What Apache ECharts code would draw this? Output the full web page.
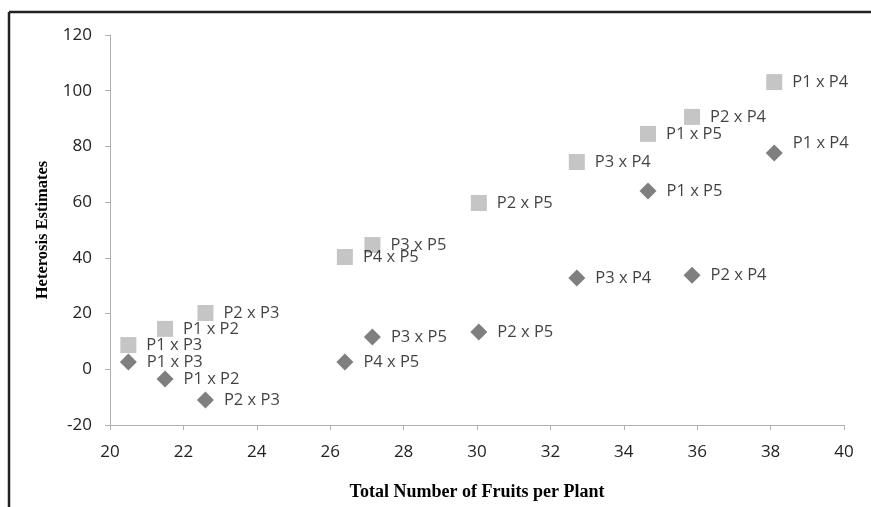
<!DOCTYPE html>
<html>
<head>
<meta charset="utf-8">
<script src="https://cdn.jsdelivr.net/npm/echarts@6/dist/echarts.min.js"></script>
<style>
html, body { margin: 0; padding: 0; background: #fff; }
#chart { width: 871px; height: 507px; }
</style>
</head>
<body>
<div id="chart"></div>
<script>
// crosses, shared by both series
var crosses = ['P1 x P3', 'P1 x P2', 'P2 x P3', 'P4 x P5', 'P3 x P5', 'P2 x P5', 'P3 x P4', 'P1 x P5', 'P2 x P4', 'P1 x P4'];
var fruits = [20.5, 21.5, 22.6, 26.4, 27.15, 30.05, 32.72, 34.66, 35.86, 38.1];
// light squares
var upper = [8.7, 14.5, 20.2, 40.3, 44.6, 59.7, 74.4, 84.5, 90.6, 103.1];
// dark diamonds
var lower = [2.6, -3.5, -11, 2.6, 11.6, 13.4, 32.8, 64, 33.8, 77.6];

function pts(vals, lifted) {
    return vals.map(function (v, i) {
        var p = { name: crosses[i], value: [fruits[i], v] };
        if (lifted === i) p.label = { offset: [0, -10] }; // label was dragged up in the original
        return p;
    });
}

var labelStyle = {
    show: true,
    position: 'right',
    distance: 10,
    formatter: '{b}',
    fontFamily: 'Open Sans',
    fontSize: 16.5,
    color: '#111'
};

var axisText = { fontFamily: 'Open Sans', fontSize: 17, color: '#222' };

var option = {
    backgroundColor: '#fff',
    animation: false,
    grid: { left: 110, right: 27, top: 35, bottom: 82 },
    xAxis: {
        type: 'value',
        min: 20, max: 40, interval: 2,
        name: 'Total Number of Fruits per Plant',
        nameLocation: 'middle',
        nameGap: 58,
        nameTextStyle: { fontFamily: 'Liberation Serif', fontWeight: 'bold', fontSize: 18, color: '#000' },
        axisLine: { onZero: false, lineStyle: { color: '#b0b0b0' } },
        axisTick: { show: true, inside: false, length: 5, lineStyle: { color: '#b0b0b0' } },
        axisLabel: Object.assign({ margin: 19 }, axisText),
        splitLine: { show: false }
    },
    yAxis: {
        type: 'value',
        min: -20, max: 120, interval: 20,
        name: 'Heterosis Estimates',
        nameLocation: 'middle',
        nameGap: 59,
        nameTextStyle: { fontFamily: 'Liberation Serif', fontWeight: 'bold', fontSize: 16.5, color: '#000' },
        axisLine: { show: true, onZero: false, lineStyle: { color: '#b0b0b0' } },
        axisTick: { show: true, length: 5, lineStyle: { color: '#b0b0b0' } },
        axisLabel: Object.assign({ margin: 18 }, axisText),
        splitLine: { show: false }
    },
    graphic: [
        { type: 'line', shape: { x1: 9, y1: 12, x2: 871, y2: 12 }, style: { stroke: '#222', lineWidth: 2.5 } },
        { type: 'line', shape: { x1: 9, y1: 12, x2: 9, y2: 507 }, style: { stroke: '#222', lineWidth: 2.5 } }
    ],
    series: [
        {
            type: 'scatter',
            symbol: 'rect',
            symbolSize: 16,
            itemStyle: { color: '#b7b7b7' },
            label: labelStyle,
            data: pts(upper, -1)
        },
        {
            type: 'scatter',
            symbol: 'diamond',
            symbolSize: [17, 17],
            itemStyle: { color: '#5f5f5f' },
            label: labelStyle,
            data: pts(lower, 9)
        }
    ]
};

echarts.init(document.getElementById('chart')).setOption(option);
</script>
</body>
</html>
